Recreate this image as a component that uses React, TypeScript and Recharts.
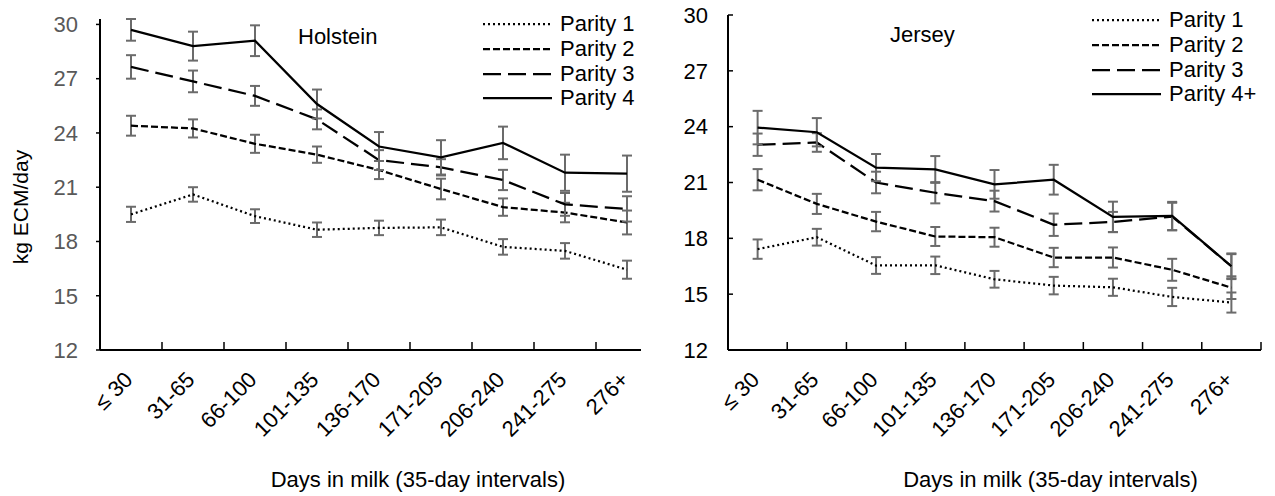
import React from "react";
import { LineChart, Line, XAxis, YAxis, ErrorBar, Legend } from "recharts";

const categories = ["≤ 30", "31-65", "66-100", "101-135", "136-170", "171-205", "206-240", "241-275", "276+"];
const yTicks = [12, 15, 18, 21, 24, 27, 30];

// Holstein
const holP1 = [19.5, 20.6, 19.4, 18.65, 18.75, 18.78, 17.7, 17.48, 16.44];
const holP1Err = [0.42, 0.4, 0.38, 0.4, 0.4, 0.43, 0.43, 0.43, 0.5];
const holP2 = [24.4, 24.25, 23.4, 22.8, 21.95, 20.9, 19.9, 19.6, 19.05];
const holP2Err = [0.55, 0.5, 0.5, 0.45, 0.5, 0.57, 0.48, 0.54, 0.66];
const holP3 = [27.65, 26.85, 26.05, 24.75, 22.5, 22.1, 21.4, 20.05, 19.8];
const holP3Err = [0.65, 0.6, 0.55, 0.55, 0.55, 0.45, 0.56, 0.63, 0.7];
const holP4 = [29.7, 28.8, 29.1, 25.6, 23.25, 22.65, 23.45, 21.8, 21.75];
const holP4Err = [0.6, 0.8, 0.85, 0.8, 0.8, 0.95, 0.9, 1.0, 1.0];

// Jersey
const jerP1 = [17.42, 18.06, 16.54, 16.55, 15.8, 15.46, 15.37, 14.85, 14.55];
const jerP1Err = [0.52, 0.45, 0.45, 0.47, 0.45, 0.47, 0.46, 0.49, 0.54];
const jerP2 = [21.15, 19.85, 18.9, 18.1, 18.06, 16.97, 16.97, 16.31, 15.35];
const jerP2Err = [0.57, 0.54, 0.52, 0.51, 0.51, 0.52, 0.54, 0.59, 0.61];
const jerP3 = [23.03, 23.15, 21.0, 20.45, 20.0, 18.73, 18.88, 19.17, 16.5];
const jerP3Err = [0.6, 0.5, 0.58, 0.57, 0.56, 0.6, 0.54, 0.74, 0.65];
const jerP4 = [23.95, 23.7, 21.8, 21.7, 20.9, 21.15, 19.15, 19.2, 16.5];
const jerP4Err = [0.9, 0.76, 0.73, 0.72, 0.77, 0.8, 0.82, 0.76, 0.69];

const holNames = ["Parity 1", "Parity 2", "Parity 3", "Parity 4"];
const jerNames = ["Parity 1", "Parity 2", "Parity 3", "Parity 4+"];

const FONT = "'Liberation Sans', Arial, Helvetica, sans-serif";
const DASHES = ["2 3", "7 3", "18 7", undefined];
const ERR_COLOR = "#6b6b6b";

type Series = { key: string; name: string; values: number[]; errors: number[]; dash?: string };

function makeSeries(names: string[], values: number[][], errors: number[][]): Series[] {
  return names.map((name, i) => ({ key: `p${i + 1}`, name, values: values[i], errors: errors[i], dash: DASHES[i] }));
}

function buildRows(series: Series[]) {
  return categories.map((cat, i) => {
    const row: Record<string, string | number> = { cat };
    series.forEach((s) => {
      row[s.key] = s.values[i];
      row[s.key + "Err"] = s.errors[i];
    });
    return row;
  });
}

const holSeries = makeSeries(holNames, [holP1, holP2, holP3, holP4], [holP1Err, holP2Err, holP3Err, holP4Err]);
const jerSeries = makeSeries(jerNames, [jerP1, jerP2, jerP3, jerP4], [jerP1Err, jerP2Err, jerP3Err, jerP4Err]);

// label at the category centre, tick marks at the category edges (inside the plot)
function CategoryTick(props: any) {
  const { x, y, payload, index } = props;
  const half = payload && typeof payload.offset === "number" ? payload.offset : 0;
  const isLast = index === categories.length - 1;
  const ax = x + 3;
  const ay = y + 31;
  return (
    <g>
      <line x1={x - half} x2={x - half} y1={y} y2={y - 8} stroke="#000" strokeWidth={1.5} />
      {isLast && <line x1={x + half} x2={x + half} y1={y} y2={y - 8} stroke="#000" strokeWidth={1.5} />}
      <text x={ax} y={ay} transform={`rotate(-45, ${ax}, ${ay})`} textAnchor="end" fontSize={22} fontFamily={FONT} fill="#000">
        {payload.value}
      </text>
    </g>
  );
}

function legendContent(series: Series[]) {
  return () => (
    <div style={{ fontFamily: FONT, fontSize: 22, color: "#000" }}>
      {series.map((s) => (
        <div key={s.key} style={{ display: "flex", alignItems: "center", height: 24.7 }}>
          <svg width={69} height={10}>
            <line x1={0} y1={5} x2={69} y2={5} stroke="#000" strokeWidth={2.25} strokeDasharray={s.dash} />
          </svg>
          <span style={{ marginLeft: 8, lineHeight: "24px" }}>{s.name}</span>
        </div>
      ))}
    </div>
  );
}

type PanelProps = {
  series: Series[];
  width: number;
  margin: { top: number; right: number; bottom: number; left: number };
  yAxisWidth: number;
  yTickColor: string;
  yTickSize: number;
  yTickMargin: number;
  legendPos: { left: number; top: number };
  titleDx: number;
  yLabel?: string;
};

function Panel({ series, width, margin, yAxisWidth, yTickColor, yTickSize, yTickMargin, legendPos, titleDx, yLabel }: PanelProps) {
  const rows = buildRows(series);
  return (
    <LineChart width={width} height={496} data={rows} margin={margin}>
      <XAxis
        dataKey="cat"
        scale="band"
        interval={0}
        height={140}
        tickLine={false}
        tickSize={0}
        tickMargin={0}
        axisLine={{ stroke: "#000", strokeWidth: 2 }}
        tick={<CategoryTick />}
        label={{
          value: "Days in milk (35-day intervals)",
          position: "insideBottom",
          offset: 3,
          dx: titleDx,
          fill: "#000",
          fontSize: 22,
          fontFamily: FONT,
        }}
      />
      <YAxis
        domain={[12, 30]}
        ticks={yTicks}
        width={yAxisWidth}
        tickSize={yTickSize}
        tickMargin={yTickMargin}
        axisLine={{ stroke: "#000", strokeWidth: 2 }}
        tickLine={{ stroke: "#000", strokeWidth: 1.5 }}
        tick={{ fill: yTickColor, fontSize: 22, fontFamily: FONT }}
        label={
          yLabel
            ? {
                content: () => (
                  <text x={28} y={207} transform="rotate(-90, 28, 207)" textAnchor="middle" fontSize={21} fontFamily={FONT} fill="#000">
                    {yLabel}
                  </text>
                ),
              }
            : undefined
        }
      />
      <Legend
        layout="vertical"
        verticalAlign="middle"
        align="center"
        wrapperStyle={{ left: legendPos.left, top: legendPos.top, width: "auto" }}
        content={legendContent(series)}
      />
      {series.map((s) => (
        <Line
          key={s.key}
          type="linear"
          dataKey={s.key}
          name={s.name}
          stroke="#000"
          strokeWidth={2.25}
          strokeDasharray={s.dash}
          dot={false}
          activeDot={false}
          isAnimationActive={false}
        >
          <ErrorBar dataKey={s.key + "Err"} direction="y" width={5} stroke={ERR_COLOR} strokeWidth={2} isAnimationActive={false} />
        </Line>
      ))}
    </LineChart>
  );
}

export default function App() {
  return (
    <div style={{ position: "absolute", left: 0, top: 0, width: 1275, height: 496, background: "#fff", fontFamily: FONT }}>
      <div style={{ position: "absolute", left: 0, top: 0, width: 641, height: 496, overflow: "hidden" }}>
        <Panel
          series={holSeries}
          width={660}
          margin={{ top: 19, right: 2, bottom: 6, left: 0 }}
          yAxisWidth={100}
          yTickColor="#595959"
          yTickSize={4}
          yTickMargin={18}
          legendPos={{ left: 483, top: 12 }}
          titleDx={39}
          yLabel="kg ECM/day"
        />
        <div style={{ position: "absolute", left: 298, top: 25, fontSize: 22, lineHeight: "24px" }}>Holstein</div>
      </div>
      <div style={{ position: "absolute", left: 641, top: 0, width: 634, height: 496, overflow: "hidden" }}>
        <Panel
          series={jerSeries}
          width={634}
          margin={{ top: 15, right: 14, bottom: 6, left: 0 }}
          yAxisWidth={87}
          yTickColor="#000"
          yTickSize={-5}
          yTickMargin={25}
          legendPos={{ left: 451, top: 8 }}
          titleDx={56}
        />
        <div style={{ position: "absolute", left: 249, top: 23, fontSize: 22, lineHeight: "24px" }}>Jersey</div>
      </div>
    </div>
  );
}
